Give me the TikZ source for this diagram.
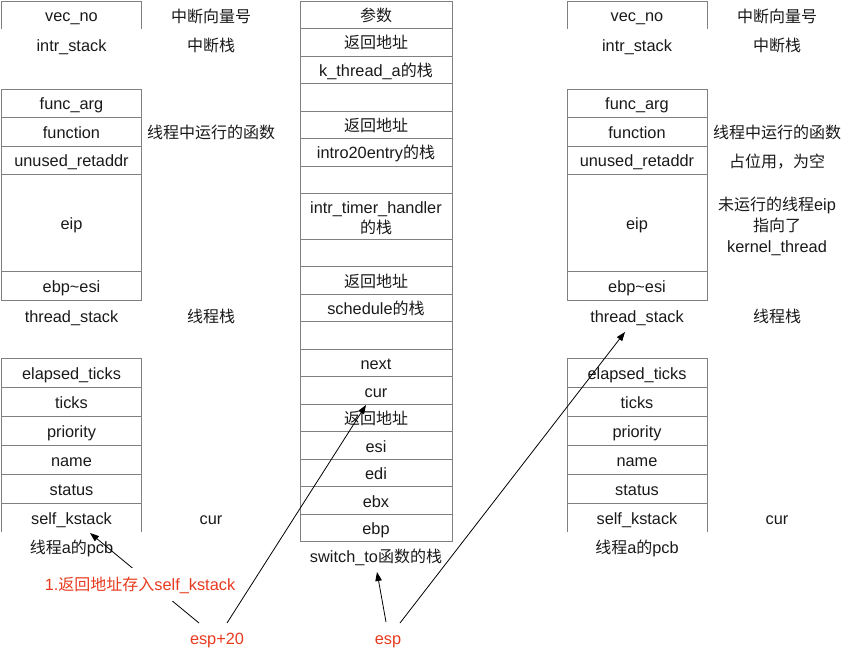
\documentclass[tikz,border=0pt]{standalone}
\usepackage{fontspec}
\setmainfont{Liberation Sans}[Scale=1.02]
\newfontfamily\zhfont{Noto Sans CJK SC}
\newcommand\zh[1]{{\zhfont #1}}
\usetikzlibrary{arrows.meta}
\definecolor{boxgray}{RGB}{128,128,128}
\definecolor{txt}{RGB}{25,25,25}
\definecolor{redlbl}{RGB}{232,58,30}
\begin{document}
\begin{tikzpicture}[x=1pt,y=-1pt,
  every node/.style={font=\fontsize{16}{20}\selectfont, text=txt, inner sep=0pt, outer sep=0pt, text height=15pt, text depth=2pt},
  cell/.style={draw=boxgray, line width=1pt, rectangle, minimum width=140pt, align=center},
  midcell/.style={cell, minimum width=152pt},
  opencell/.style={rectangle, minimum width=140pt},
  openline/.style={draw=boxgray, line width=1pt},
  redtext/.style={text=redlbl},
  ptr/.style={draw=black, line width=0.8pt, -{Triangle[length=9pt,width=6.5pt]}}
]
\useasboundingbox (0,0) rectangle (847,653);

% ---------- left column ----------
\node[opencell, minimum height=27.5pt] (lvec) at (71.5,15.25) {vec\_no};
\draw[openline] (lvec.south west) -- (lvec.north west) -- (lvec.north east) -- (lvec.south east);
\node (lintr) at (71.5,45) {intr\_stack};
\node[cell, minimum height=28.3pt] (lfa) at (71.5,103.15) {func\_arg};
\node[cell, minimum height=28.7pt, anchor=north] (lfn) at (lfa.south) {function};
\node[cell, minimum height=28.3pt, anchor=north] (lun) at (lfn.south) {unused\_retaddr};
\node[cell, minimum height=97.4pt, anchor=north] (leip) at (lun.south) {eip};
\node[cell, minimum height=28.3pt, anchor=north] (lebp) at (leip.south) {ebp\textasciitilde esi};
\node (lts) at (71.5,316) {thread\_stack};
\node[cell, minimum height=29pt] (lel) at (71.5,372.8) {elapsed\_ticks};
\node[cell, minimum height=29pt, anchor=north] (ltk) at (lel.south) {ticks};
\node[cell, minimum height=29pt, anchor=north] (lpr) at (ltk.south) {priority};
\node[cell, minimum height=29pt, anchor=north] (lnm) at (lpr.south) {name};
\node[cell, minimum height=29pt, anchor=north] (lst) at (lnm.south) {status};
\node[opencell, minimum height=28.4pt, anchor=north] (lsk) at (lst.south) {self\_kstack};
\draw[openline] (lsk.south west) -- (lsk.north west) -- (lsk.north east) -- (lsk.south east);
\node (lpcb) at (71.5,547) {\zh{线程}a\zh{的}pcb};

\node (lc1) at (211,16) {\zh{中断向量号}};
\node (lc2) at (211,45) {\zh{中断栈}};
\node (lc3) at (211,132) {\zh{线程中运行的函数}};
\node (lc4) at (211,316) {\zh{线程栈}};
\node (lc5) at (211,518) {cur};

% ---------- middle column ----------
\node[midcell, minimum height=26.8pt] (m1) at (376,14.9) {\zh{参数}};
\node[midcell, minimum height=28.2pt, anchor=north] (m2) at (m1.south) {\zh{返回地址}};
\node[midcell, minimum height=26.8pt, anchor=north] (m3) at (m2.south) {k\_thread\_a\zh{的栈}};
\node[midcell, minimum height=28.4pt, anchor=north] (m4) at (m3.south) {};
\node[midcell, minimum height=26.8pt, anchor=north] (m5) at (m4.south) {\zh{返回地址}};
\node[midcell, minimum height=27.5pt, anchor=north] (m6) at (m5.south) {intro20entry\zh{的栈}};
\node[midcell, minimum height=27.3pt, anchor=north] (m7) at (m6.south) {};
\node[midcell, minimum height=46pt, anchor=north] (m8) at (m7.south) {};
\node (m8a) at (376,206.5) {intr\_timer\_handler};
\node (m8b) at (376,226.5) {\zh{的栈}};
\node[midcell, minimum height=27.4pt, anchor=north] (m9) at (m8.south) {};
\node[midcell, minimum height=27.8pt, anchor=north] (m10) at (m9.south) {\zh{返回地址}};
\node[midcell, minimum height=27pt, anchor=north] (m11) at (m10.south) {schedule\zh{的栈}};
\node[midcell, minimum height=27.8pt, anchor=north] (m12) at (m11.south) {};
\node[midcell, minimum height=27.4pt, anchor=north] (m13) at (m12.south) {next};
\node[midcell, minimum height=27.6pt, anchor=north] (m14) at (m13.south) {cur};
\node[midcell, minimum height=27.4pt, anchor=north] (m15) at (m14.south) {\zh{返回地址}};
\node[midcell, minimum height=27.6pt, anchor=north] (m16) at (m15.south) {esi};
\node[midcell, minimum height=27.4pt, anchor=north] (m17) at (m16.south) {edi};
\node[midcell, minimum height=27.6pt, anchor=north] (m18) at (m17.south) {ebx};
\node[midcell, minimum height=26.7pt, anchor=north] (m19) at (m18.south) {ebp};
\node (swl) at (376,556) {switch\_to\zh{函数的栈}};

% ---------- right column ----------
\node[opencell, minimum height=27.5pt] (rvec) at (637,15.25) {vec\_no};
\draw[openline] (rvec.south west) -- (rvec.north west) -- (rvec.north east) -- (rvec.south east);
\node (rintr) at (637,45) {intr\_stack};
\node[cell, minimum height=28.3pt] (rfa) at (637,103.15) {func\_arg};
\node[cell, minimum height=28.7pt, anchor=north] (rfn) at (rfa.south) {function};
\node[cell, minimum height=28.3pt, anchor=north] (run) at (rfn.south) {unused\_retaddr};
\node[cell, minimum height=97.4pt, anchor=north] (reip) at (run.south) {eip};
\node[cell, minimum height=28.3pt, anchor=north] (rebp) at (reip.south) {ebp\textasciitilde esi};
\node (rts) at (637,316) {thread\_stack};
\node[cell, minimum height=29pt] (rel) at (637,372.8) {elapsed\_ticks};
\node[cell, minimum height=29pt, anchor=north] (rtk) at (rel.south) {ticks};
\node[cell, minimum height=29pt, anchor=north] (rpr) at (rtk.south) {priority};
\node[cell, minimum height=29pt, anchor=north] (rnm) at (rpr.south) {name};
\node[cell, minimum height=29pt, anchor=north] (rst) at (rnm.south) {status};
\node[opencell, minimum height=28.4pt, anchor=north] (rsk) at (rst.south) {self\_kstack};
\draw[openline] (rsk.south west) -- (rsk.north west) -- (rsk.north east) -- (rsk.south east);
\node (rpcb) at (637,547) {\zh{线程}a\zh{的}pcb};

\node (rc1) at (777,16) {\zh{中断向量号}};
\node (rc2) at (777,45) {\zh{中断栈}};
\node (rc3) at (777,132) {\zh{线程中运行的函数}};
\node (rc4) at (777,161) {\zh{占位用，为空}};
\node (rc5) at (777,204) {\zh{未运行的线程}eip};
\node (rc6) at (777,225) {\zh{指向了}};
\node (rc7) at (777,245.5) {kernel\_thread};
\node (rc8) at (777,316) {\zh{线程栈}};
\node (rc9) at (777,518) {cur};

% ---------- pointers ----------
\node[redtext] (esp20) at (217,638) {esp+20};
\node[redtext] (esp) at (388,638) {esp};
\coordinate (a1s) at (199,623);
\coordinate (a1e) at (90,533);
\coordinate (a2s) at (227,623);
\coordinate (a2e) at (366,405);
\coordinate (a3s) at (386,622);
\coordinate (a3e) at (377,572);
\coordinate (a4s) at (400,623);
\coordinate (a4e) at (625,332);
\draw[ptr] (a1s) -- (a1e);
\draw[ptr] (a2s) -- (a2e);
\draw[ptr] (a3s) -- (a3e);
\draw[ptr] (a4s) -- (a4e);
\node[redtext, fill=white, inner xsep=2pt, inner ysep=8pt] (save) at (140,584) {1.\zh{返回地址存入}self\_kstack};
\end{tikzpicture}
\end{document}
